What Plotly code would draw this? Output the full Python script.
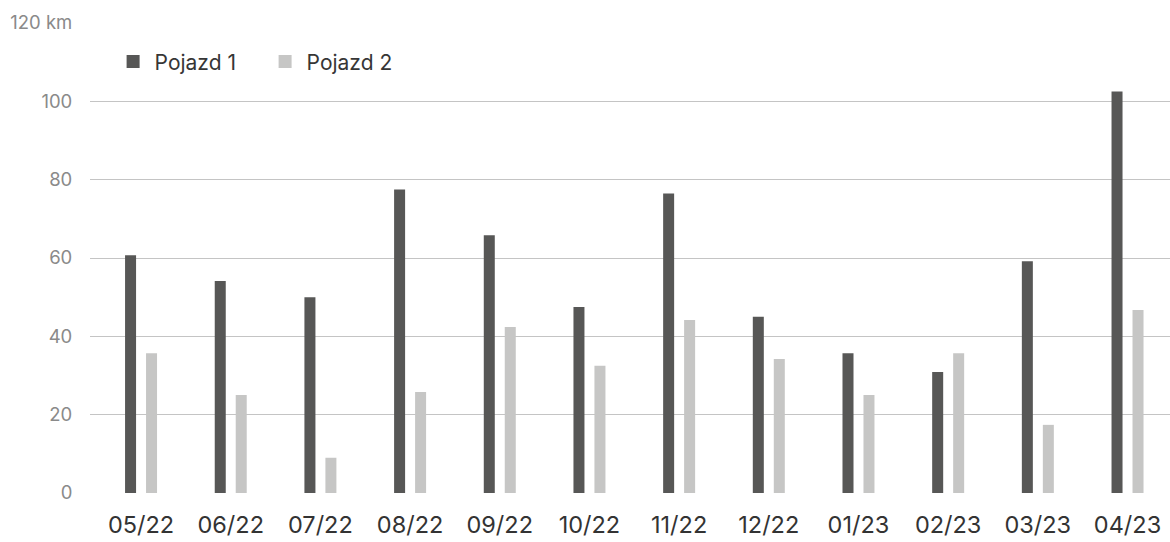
import plotly.graph_objects as go

# Monthly distance driven per vehicle (km)
months = ["05/22", "06/22", "07/22", "08/22", "09/22", "10/22",
          "11/22", "12/22", "01/23", "02/23", "03/23", "04/23"]
vehicle_1 = [60.7, 54.1, 50.0, 77.5, 65.8, 47.5, 76.5, 45.0, 35.7, 30.9, 59.2, 102.5]
vehicle_2 = [35.7, 25.0, 9.0, 25.8, 42.4, 32.5, 44.2, 34.2, 25.0, 35.7, 17.4, 46.7]
series_names = ["Pojazd 1", "Pojazd 2"]

y_ticks = [0, 20, 40, 60, 80, 100, 120]
y_tick_text = ["0", "20", "40", "60", "80", "100", "120 km"]

DARK = "#575756"
LIGHT = "#c6c6c5"
FONT = "Inter, Liberation Sans, sans-serif"

BAR_W = 0.1227

fig = go.Figure()
for name, values, color, off in [(series_names[0], vehicle_1, DARK, -0.178),
                                  (series_names[1], vehicle_2, LIGHT, 0.056)]:
    fig.add_trace(go.Bar(
        x=months, y=values, name=name, legendgroup=name, showlegend=False,
        marker=dict(color=color, line=dict(width=0)),
        width=BAR_W, offset=off,
    ))
    # square legend key for the series
    fig.add_trace(go.Scatter(
        x=[None], y=[None], mode="markers", name=name, legendgroup=name,
        marker=dict(symbol="square", size=13, color=color, line=dict(width=0)),
        hoverinfo="skip",
    ))

fig.update_layout(
    width=1170, height=542,
    margin=dict(l=90, r=0, t=23, b=49, pad=0),
    paper_bgcolor="white", plot_bgcolor="white",
    barmode="overlay",
    font=dict(family=FONT, color="#363636"),
    showlegend=True,
    legend=dict(
        orientation="h", x=0.02, y=0.961, xanchor="left", yanchor="top",
        font=dict(size=21, color="#363636", family=FONT),
        bgcolor="rgba(0,0,0,0)", traceorder="normal",
        itemwidth=33, itemsizing="trace",
        entrywidth=104, entrywidthmode="pixels",
    ),
    xaxis=dict(
        type="category", range=[-0.569, 11.474],
        showgrid=False, zeroline=False, showline=False,
        ticks="", tickfont=dict(size=23.5, color="#333333", family=FONT),
        ticklabelstandoff=15, fixedrange=True,
    ),
    yaxis=dict(
        range=[0, 120], tickvals=y_ticks, ticktext=y_tick_text,
        showgrid=True, gridcolor="#c4c4c4", gridwidth=1,
        zeroline=False, showline=False,
        ticks="outside", ticklen=13, tickcolor="rgba(0,0,0,0)",
        tickfont=dict(size=18.5, color="#8a8a8a", family=FONT),
        fixedrange=True,
    ),
)

fig.write_html("out.html")
